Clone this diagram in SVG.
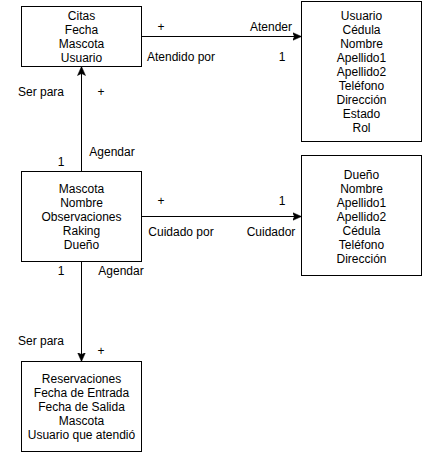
<svg xmlns="http://www.w3.org/2000/svg" width="423" height="453" viewBox="0 0 423 453">
<style>
.box{fill:#fff;stroke:#000;stroke-width:1}
.t{font-family:"Liberation Sans",Arial,sans-serif;font-size:12px;fill:#000}
.c{text-anchor:middle}
.e{stroke:#000;stroke-width:1;fill:none}
</style>
<defs>
<marker id="arr" markerUnits="userSpaceOnUse" markerWidth="10" markerHeight="10" viewBox="0 0 10 10" refX="9" refY="5" orient="auto">
<path d="M0,1 L9,5 L0,9 L2,5 z" fill="#000" stroke="#000" stroke-width="0.5"/>
</marker>
</defs>
<rect width="423" height="453" fill="#fff"/>
<g id="connectors">
<line class="e" x1="141.5" y1="36.5" x2="301.5" y2="36.5" marker-end="url(#arr)"/>
<line class="e" x1="81.5" y1="171.5" x2="81.5" y2="66.5" marker-end="url(#arr)"/>
<line class="e" x1="141.5" y1="216.5" x2="301.5" y2="216.5" marker-end="url(#arr)"/>
<line class="e" x1="81.5" y1="261.5" x2="81.5" y2="361.5" marker-end="url(#arr)"/>
<text class="t c" x="161" y="31">+</text>
<text class="t c" x="271" y="31">Atender</text>
<text class="t c" x="181" y="61">Atendido por</text>
<text class="t c" x="282" y="61">1</text>
<text class="t c" x="41" y="96">Ser para</text>
<text class="t c" x="101" y="96">+</text>
<text class="t c" x="112" y="156">Agendar</text>
<text class="t c" x="61" y="166">1</text>
<text class="t c" x="161" y="205">+</text>
<text class="t c" x="282" y="205">1</text>
<text class="t c" x="181" y="236">Cuidado por</text>
<text class="t c" x="271" y="236">Cuidador</text>
<text class="t c" x="61" y="275">1</text>
<text class="t c" x="121" y="275">Agendar</text>
<text class="t c" x="41" y="345">Ser para</text>
<text class="t c" x="101" y="355">+</text>
</g>
<g id="citas">
<rect class="box" x="21.5" y="6.5" width="120" height="60"/>
<text class="t c" x="81.5" y="19.5"><tspan x="81.5">Citas</tspan><tspan x="81.5" dy="14">Fecha</tspan><tspan x="81.5" dy="14">Mascota</tspan><tspan x="81.5" dy="14">Usuario</tspan></text>
</g>
<g id="usuario">
<rect class="box" x="301.5" y="1.5" width="120" height="140"/>
<text class="t c" x="361.5" y="19.5"><tspan x="361.5">Usuario</tspan><tspan x="361.5" dy="14">Cédula</tspan><tspan x="361.5" dy="14">Nombre</tspan><tspan x="361.5" dy="14">Apellido1</tspan><tspan x="361.5" dy="14">Apellido2</tspan><tspan x="361.5" dy="14">Teléfono</tspan><tspan x="361.5" dy="14">Dirección</tspan><tspan x="361.5" dy="14">Estado</tspan><tspan x="361.5" dy="14">Rol</tspan></text>
</g>
<g id="mascota">
<rect class="box" x="21.5" y="171.5" width="120" height="90"/>
<text class="t c" x="81.5" y="193"><tspan x="81.5">Mascota</tspan><tspan x="81.5" dy="14">Nombre</tspan><tspan x="81.5" dy="14">Observaciones</tspan><tspan x="81.5" dy="14">Raking</tspan><tspan x="81.5" dy="14">Dueño</tspan></text>
</g>
<g id="dueno">
<rect class="box" x="301.5" y="155.5" width="120" height="120"/>
<text class="t c" x="361.5" y="178.5"><tspan x="361.5">Dueño</tspan><tspan x="361.5" dy="14">Nombre</tspan><tspan x="361.5" dy="14">Apellido1</tspan><tspan x="361.5" dy="14">Apellido2</tspan><tspan x="361.5" dy="14">Cédula</tspan><tspan x="361.5" dy="14">Teléfono</tspan><tspan x="361.5" dy="14">Dirección</tspan></text>
</g>
<g id="reservaciones">
<rect class="box" x="21.5" y="361.5" width="120" height="90"/>
<text class="t c" x="81.5" y="383"><tspan x="81.5">Reservaciones</tspan><tspan x="81.5" dy="14">Fecha de Entrada</tspan><tspan x="81.5" dy="14">Fecha de Salida</tspan><tspan x="81.5" dy="14">Mascota</tspan><tspan x="81.5" dy="14">Usuario que atendió</tspan></text>
</g>
</svg>
